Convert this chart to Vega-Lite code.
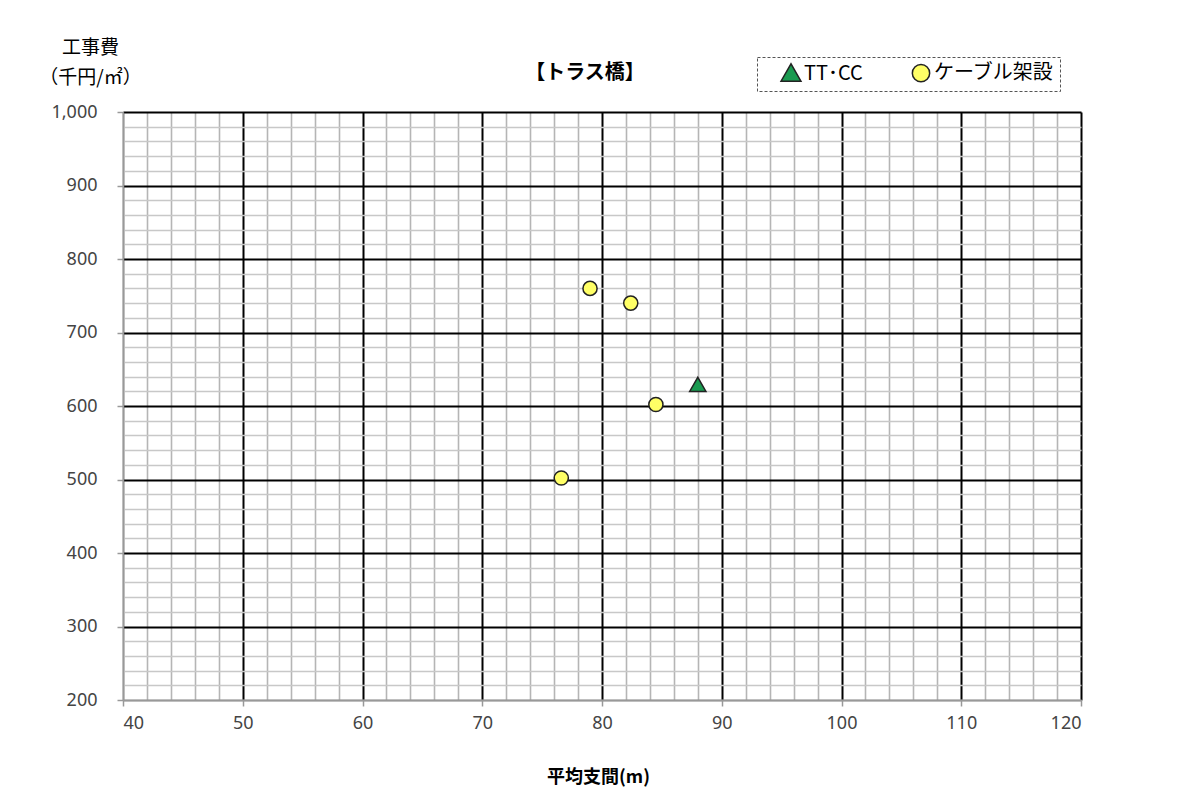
{
  "$schema": "https://vega.github.io/schema/vega-lite/v6.json",
  "autosize": "none",
  "width": 958,
  "height": 588,
  "padding": {"left": 123, "top": 112, "right": 103, "bottom": 105},
  "background": "white",
  "config": {
    "view": {"stroke": null},
    "font": "Noto Sans CJK JP",
    "legend": {
      "title": null,
      "orient": "none",
      "direction": "horizontal",
      "legendX": 634,
      "legendY": -55,
      "padding": 6,
      "strokeColor": "#555",
      "strokeDash": [3, 2],
      "symbolSize": 300,
      "symbolStrokeWidth": 1.5,
      "symbolOffset": 18,
      "labelFont": "Noto Sans CJK JP",
      "labelFontSize": 20,
      "labelColor": "#000",
      "columnPadding": 30,
      "labelOffset": 3
    }
  },
  "title": {
    "text": "【トラス橋】",
    "font": "Noto Sans CJK JP",
    "fontSize": 20,
    "fontWeight": "bold",
    "color": "#000",
    "anchor": "middle",
    "dx": -17,
    "offset": -45
  },
  "data": {
    "values": [
      {"span": 88.0, "cost": 628, "type": "TT･CC"},
      {"span": 79.0, "cost": 760, "type": "ケーブル架設"},
      {"span": 82.4, "cost": 740, "type": "ケーブル架設"},
      {"span": 84.5, "cost": 602, "type": "ケーブル架設"},
      {"span": 76.6, "cost": 502, "type": "ケーブル架設"}
    ]
  },
  "resolve": {"axis": {"x": "independent", "y": "independent"}},
  "layer": [
    {
      "mark": {"type": "point", "opacity": 0},
      "encoding": {
        "x": {
          "field": "span", "type": "quantitative",
          "scale": {"domain": [40, 120], "nice": false, "zero": false},
          "axis": {
            "orient": "bottom",
            "values": [42,44,46,48,52,54,56,58,62,64,66,68,72,74,76,78,82,84,86,88,92,94,96,98,102,104,106,108,112,114,116,118],
            "grid": true, "gridColor": "#b5b5b5", "gridWidth": 1.6,
            "labels": false, "ticks": false, "domain": false, "title": null
          }
        },
        "y": {
          "field": "cost", "type": "quantitative",
          "scale": {"domain": [200, 1000], "nice": false, "zero": false},
          "axis": {
            "orient": "left",
            "values": [220,240,260,280,320,340,360,380,420,440,460,480,520,540,560,580,620,640,660,680,720,740,760,780,820,840,860,880,920,940,960,980],
            "grid": true, "gridColor": "#c8c8c8", "gridWidth": 1.6,
            "labels": false, "ticks": false, "domain": false, "title": null
          }
        }
      }
    },
    {
      "mark": {"type": "point", "filled": true, "opacity": 1, "strokeWidth": 1.5, "size": 200},
      "encoding": {
        "x": {
          "field": "span", "type": "quantitative",
          "scale": {"domain": [40, 120], "nice": false, "zero": false},
          "axis": {
            "orient": "bottom",
            "values": [40,50,60,70,80,90,100,110,120],
            "grid": true,
            "gridColor": {"condition": {"test": "datum.value == 40", "value": "#999999"}, "value": "#000000"},
            "gridWidth": 2,
            "domain": true, "domainColor": "#999999", "domainWidth": 1.5,
            "ticks": true, "tickColor": "#999999", "tickSize": 6, "tickWidth": 1.5,
            "labelFont": "Noto Sans", "labelFontSize": 18, "labelColor": "#444", "labelPadding": 8,
            "title": "平均支間(m)",
            "titleFont": "Noto Sans CJK JP", "titleFontSize": 18, "titleFontWeight": "bold", "titleColor": "#000",
            "titleBaseline": "middle", "titleY": 77, "titleX": 475
          }
        },
        "y": {
          "field": "cost", "type": "quantitative",
          "scale": {"domain": [200, 1000], "nice": false, "zero": false},
          "axis": {
            "orient": "left",
            "values": [200,300,400,500,600,700,800,900,1000],
            "format": ",d",
            "grid": true,
            "gridColor": {"condition": {"test": "datum.value == 200", "value": "#999999"}, "value": "#000000"},
            "gridWidth": 2,
            "domain": true, "domainColor": "#999999", "domainWidth": 1.5,
            "ticks": true, "tickColor": "#999999", "tickSize": 6, "tickWidth": 1.5,
            "labelFont": "Noto Sans", "labelFontSize": 18, "labelColor": "#444", "labelPadding": 20,
            "title": ["工事費", "（千円/㎡）"],
            "titleFont": "Noto Sans CJK JP", "titleFontSize": 19, "titleFontWeight": "normal", "titleColor": "#000",
            "titleAngle": 0, "titleAlign": "center", "titleBaseline": "middle",
            "titleX": -33, "titleY": -65, "titleLineHeight": 30
          }
        },
        "shape": {
          "field": "type", "type": "nominal",
          "scale": {"domain": ["TT･CC", "ケーブル架設"], "range": ["M-1.15,0.85L1.15,0.85L0,-1.15Z", "circle"]}
        },
        "fill": {
          "field": "type", "type": "nominal",
          "scale": {"domain": ["TT･CC", "ケーブル架設"], "range": ["#1a9a50", "#ffff66"]}
        },
        "stroke": {
          "field": "type", "type": "nominal",
          "scale": {"domain": ["TT･CC", "ケーブル架設"], "range": ["#222222", "#222222"]}
        }
      }
    }
  ]
}
